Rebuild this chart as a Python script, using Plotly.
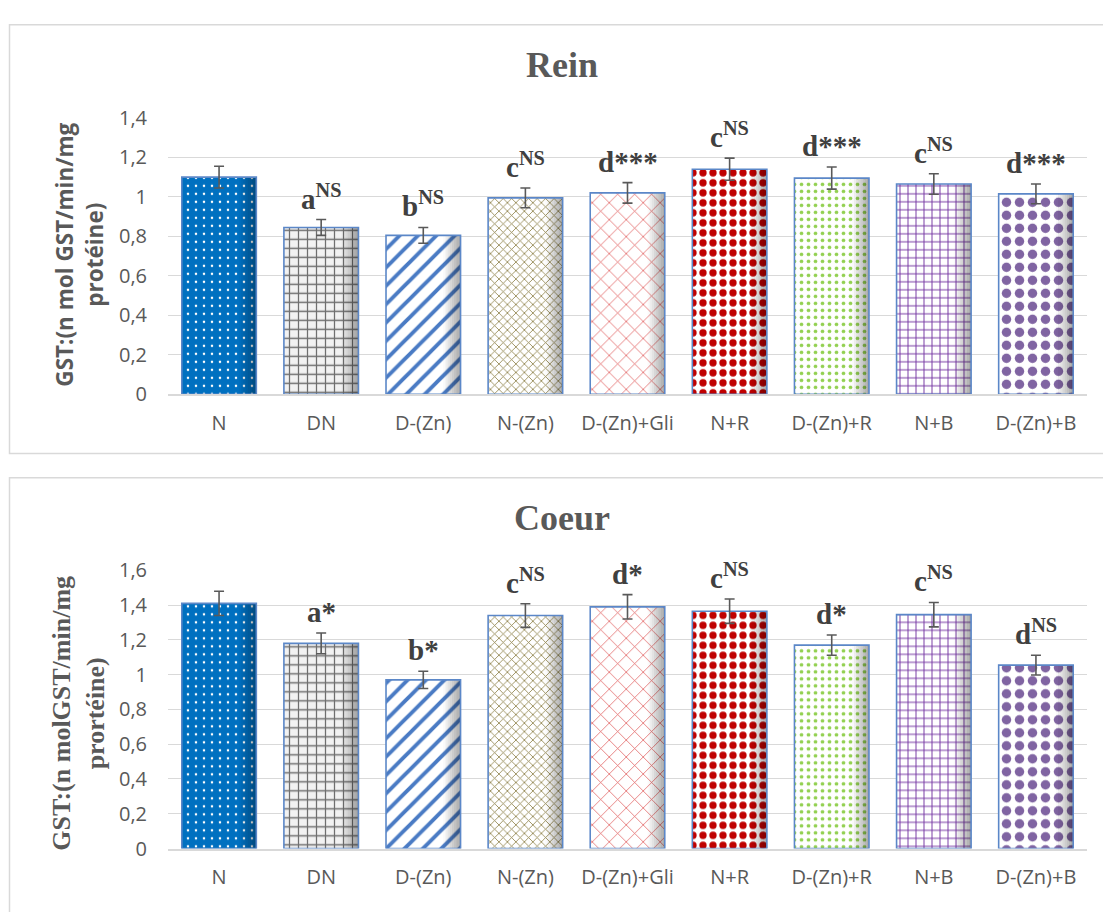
import plotly.graph_objects as go

# ---- data -------------------------------------------------------------
categories = ["N", "DN", "D-(Zn)", "N-(Zn)", "D-(Zn)+Gli", "N+R", "D-(Zn)+R", "N+B", "D-(Zn)+B"]

rein_values = [1.10, 0.845, 0.805, 0.995, 1.02, 1.14, 1.095, 1.065, 1.015]
rein_errors = [0.055, 0.04, 0.04, 0.05, 0.052, 0.056, 0.056, 0.052, 0.05]
rein_labels = ["", "a<sup>NS</sup>", "b<sup>NS</sup>", "c<sup>NS</sup>", "d***",
               "c<sup>NS</sup>", "d***", "c<sup>NS</sup>", "d***"]

coeur_values = [1.41, 1.18, 0.97, 1.34, 1.39, 1.365, 1.17, 1.345, 1.055]
coeur_errors = [0.07, 0.06, 0.05, 0.068, 0.07, 0.07, 0.058, 0.07, 0.057]
coeur_labels = ["", "a*", "b*", "c<sup>NS</sup>", "d*",
                "c<sup>NS</sup>", "d*", "c<sup>NS</sup>", "d<sup>NS</sup>"]

rein_ticks = [0, 0.2, 0.4, 0.6, 0.8, 1, 1.2, 1.4]
coeur_ticks = [0, 0.2, 0.4, 0.6, 0.8, 1, 1.2, 1.4, 1.6]

# ---- per-group fill patterns ------------------------------------------
pat_shape = [".", "+", "/", "x", "x", ".", ".", "+", "."]
pat_fg = ["#FFFFFF", "#6F6F6F", "#4A7BC4", "#8C7F45", "#E05A5A",
          "#C00000", "#92D050", "#7030A0", "#8064A2"]
pat_bg = ["#0070C0", "#F2F2F2", "#FFFFFF", "#FFFFFF", "#FFFFFF",
          "#FFFFFF", "#FFFFFF", "#FFFFFF", "#FFFFFF"]
pat_size = [8, 9, 13, 6, 12, 10, 7, 8, 13]
pat_solid = [0.08, 0.26, 0.3, 0.25, 0.12, 0.42, 0.22, 0.22, 0.42]

BAR_W = 0.73
OUTLINE = "#5B87C8"
GRID = "#D9D9D9"
TICK_FONT = dict(family="Open Sans", size=20, color="#595959")

fig = go.Figure()


def add_panel(values, errors, labels, xa, ya):
    # patterned fill
    fig.add_trace(go.Bar(
        x=categories, y=values, width=BAR_W, xaxis=xa, yaxis=ya,
        marker=dict(color="#FFFFFF", line=dict(width=0),
                    pattern=dict(shape=pat_shape, fgcolor=pat_fg, bgcolor=pat_bg,
                                 size=pat_size, solidity=pat_solid, fillmode="replace")),
        hoverinfo="skip", showlegend=False))
    # shading towards the right edge of each bar
    n_strips = 8
    strip_w = 0.17 / n_strips
    for k in range(n_strips):
        alpha = 0.02 + 0.045 * k
        fig.add_trace(go.Bar(
            x=categories, y=values, width=strip_w,
            offset=BAR_W / 2 - 0.17 + k * strip_w,
            xaxis=xa, yaxis=ya,
            marker=dict(color=f"rgba(0,0,0,{alpha:.3f})", line=dict(width=0)),
            hoverinfo="skip", showlegend=False))
    # outline + error bars
    fig.add_trace(go.Bar(
        x=categories, y=values, width=BAR_W, xaxis=xa, yaxis=ya,
        marker=dict(color="rgba(0,0,0,0)", line=dict(color=OUTLINE, width=1.6)),
        error_y=dict(type="data", array=errors, visible=True,
                     color="#595959", thickness=1.6, width=5),
        showlegend=False))
    # significance letters
    for c, v, e, t in zip(categories, values, errors, labels):
        if t:
            fig.add_annotation(
                x=c, y=v + e, xref=xa, yref=ya, text=t, showarrow=False,
                yanchor="bottom", yshift=3,
                font=dict(family="Liberation Serif", size=29, color="#404040", weight="bold"))


add_panel(rein_values, rein_errors, rein_labels, "x", "y")
add_panel(coeur_values, coeur_errors, coeur_labels, "x2", "y2")

H = 912.0
W = 1103.0
x_dom = [168 / W, 1087 / W]

axis_common_x = dict(
    tickfont=TICK_FONT, showgrid=False, showline=True, linecolor=GRID, linewidth=1.5,
    ticks="", ticklabelstandoff=10, fixedrange=True)
axis_common_y = dict(
    tickfont=TICK_FONT, showgrid=True, gridcolor=GRID, gridwidth=1.2,
    zeroline=False, showline=False, ticks="", ticklabelstandoff=20, fixedrange=True)

fig.update_layout(
    width=1103, height=912,
    margin=dict(l=0, r=0, t=0, b=0),
    paper_bgcolor="white", plot_bgcolor="white",
    barmode="overlay",
    separators=", ",
    xaxis=dict(domain=x_dom, anchor="y", **axis_common_x),
    yaxis=dict(domain=[1 - 392 / H, 1 - 107 / H], anchor="x", range=[0, 1.4],
               tickvals=rein_ticks, **axis_common_y),
    xaxis2=dict(domain=x_dom, anchor="y2", **axis_common_x),
    yaxis2=dict(domain=[1 - 860 / H, 1 - 573.3 / H], anchor="x2", range=[0, 1.6],
                tickvals=coeur_ticks, **axis_common_y),
)

# chart frames
fig.add_shape(type="rect", xref="paper", yref="paper",
              x0=9.5 / W, x1=1.02, y0=1 - 453 / H, y1=1 - 11 / H,
              line=dict(color=GRID, width=1.5), fillcolor="rgba(0,0,0,0)", layer="below")
fig.add_shape(type="rect", xref="paper", yref="paper",
              x0=9.5 / W, x1=1.02, y0=-0.02, y1=1 - 478 / H,
              line=dict(color=GRID, width=1.5), fillcolor="rgba(0,0,0,0)", layer="below")

# chart titles
title_font = dict(family="Liberation Serif", size=36, color="#595959", weight="bold")
fig.add_annotation(x=562 / W, y=1 - 53 / H, xref="paper", yref="paper", text="Rein",
                   showarrow=False, font=title_font, xanchor="center", yanchor="middle")
fig.add_annotation(x=562 / W, y=1 - 519 / H, xref="paper", yref="paper", text="Coeur",
                   showarrow=False, font=title_font, xanchor="center", yanchor="middle")

# y-axis titles
fig.add_annotation(x=79 / W, y=1 - 248 / H, xref="paper", yref="paper",
                   text="GST:(n mol GST/min/mg<br>protéine)", textangle=-90,
                   showarrow=False, xanchor="center", yanchor="middle",
                   font=dict(family="Open Sans", size=22.5, color="#595959", weight="bold"))
fig.add_annotation(x=79 / W, y=1 - 721 / H, xref="paper", yref="paper",
                   text="GST:(n molGST/min/mg<br>prortéine)", textangle=-90,
                   showarrow=False, xanchor="center", yanchor="middle",
                   font=dict(family="Liberation Serif", size=26, color="#595959", weight="bold"))

fig.write_html("out.html")
